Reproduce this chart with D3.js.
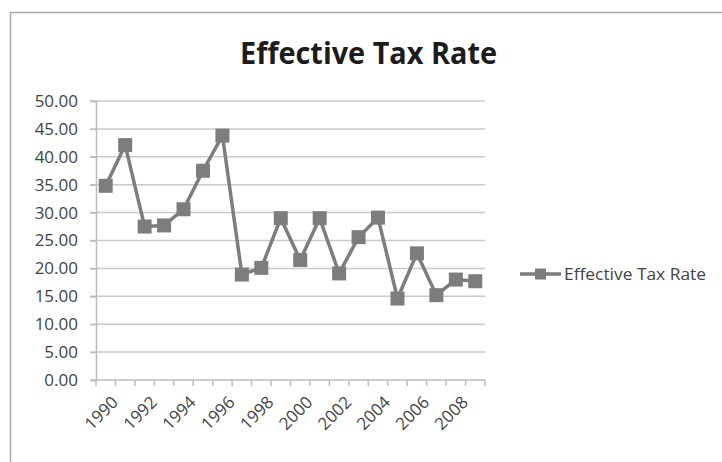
<!DOCTYPE html>
<html>
<head>
<meta charset="utf-8">
<script src="https://cdn.jsdelivr.net/npm/d3@7"></script>
<style>
  body { margin: 0; background: #fff; }
  svg { display: block; font-family: 'Open Sans', sans-serif; }
</style>
</head>
<body>
<svg id="chart" width="722" height="462"></svg>
<script>
'use strict';

var years = [1990, 1991, 1992, 1993, 1994, 1995, 1996, 1997, 1998, 1999,
  2000, 2001, 2002, 2003, 2004, 2005, 2006, 2007, 2008, 2009];
var rates = [34.8, 42.1, 27.5, 27.7, 30.6, 37.5, 43.8, 18.9, 20.1, 29.0,
  21.5, 29.0, 19.1, 25.6, 29.1, 14.6, 22.7, 15.2, 18.0, 17.7];
var yTicks = [0, 5, 10, 15, 20, 25, 30, 35, 40, 45, 50];
var seriesName = 'Effective Tax Rate';

(function () {
  var svg = d3.select('#chart');
  var margins = { top: 101, left: 96 };
  var width = 389;
  var height = 279;
  var ink = '#7d7d7d';

  // chart border (runs off the right and bottom of the picture)
  svg.append('rect').attr('x', 10.5).attr('y', 12.5).attr('width', 760).attr('height', 500)
    .attr('fill', 'none').attr('stroke', '#a8a8a8').attr('stroke-width', 1.5);

  svg.append('text').attr('x', 240).attr('y', 64)
    .attr('font-size', 30).attr('font-weight', 'bold').attr('fill', '#1c1c1c')
    .attr('textLength', 257).attr('lengthAdjust', 'spacingAndGlyphs')
    .text(seriesName);

  var g = svg.append('g').attr('transform', 'translate(' + margins.left + ',' + margins.top + ')');

  var x = d3.scaleBand().domain(years).range([0, width]);
  var y = d3.scaleLinear().domain([0, 50]).range([height, 0]);

  // horizontal gridlines
  g.append('g').selectAll('line').data(yTicks.slice(1)).enter().append('line')
    .attr('x1', -6).attr('x2', width)
    .attr('y1', function (d) { return y(d); }).attr('y2', function (d) { return y(d); })
    .attr('stroke', '#cacaca').attr('stroke-width', 1.5);

  var yAxis = d3.axisLeft(y).tickValues(yTicks).tickFormat(d3.format('.2f')).tickSize(6).tickPadding(12);
  var yG = g.append('g').call(yAxis);
  yG.select('.domain').attr('stroke', '#bdbdbd').attr('stroke-width', 1.5);
  yG.selectAll('.tick line').attr('stroke', '#bdbdbd').attr('stroke-width', 1.5);
  yG.selectAll('text').attr('font-size', 17).attr('fill', '#444').attr('font-family', 'Open Sans');

  // x axis: tick marks on the category boundaries
  var xG = g.append('g').attr('transform', 'translate(0,' + height + ')');
  xG.append('line').attr('x1', -6).attr('x2', width).attr('stroke', '#bdbdbd').attr('stroke-width', 1.5);
  xG.selectAll('line.tk').data(years.concat([null])).enter().append('line').attr('class', 'tk')
    .attr('x1', function (d, i) { return i * x.step(); })
    .attr('x2', function (d, i) { return i * x.step(); })
    .attr('y1', 0).attr('y2', 6).attr('stroke', '#bdbdbd').attr('stroke-width', 1.5);
  xG.selectAll('text').data(years.filter(function (d, i) { return i % 2 === 0; })).enter().append('text')
    .attr('transform', function (d) {
      return 'translate(' + (x(d) + x.bandwidth() / 2 + 5) + ',' + 15 + ') rotate(-45)';
    })
    .attr('text-anchor', 'end').attr('dy', '0.7em')
    .attr('font-size', 17).attr('fill', '#444').text(function (d) { return d; });

  var data = years.map(function (d, i) { return { year: d, rate: rates[i] }; });
  var cx = function (d) { return x(d.year) + x.bandwidth() / 2; };

  var line = d3.line().x(cx).y(function (d) { return y(d.rate); });
  g.append('path').datum(data).attr('d', line).attr('fill', 'none')
    .attr('stroke', ink).attr('stroke-width', 3.5).attr('stroke-linejoin', 'round');

  g.append('g').selectAll('rect').data(data).enter().append('rect')
    .attr('x', function (d) { return cx(d) - 7; })
    .attr('y', function (d) { return y(d.rate) - 7; })
    .attr('width', 14).attr('height', 14).attr('fill', ink);

  // legend
  var lg = svg.append('g').attr('transform', 'translate(520,274)');
  lg.append('line').attr('x1', 0).attr('x2', 41).attr('stroke', ink).attr('stroke-width', 3.5);
  lg.append('rect').attr('x', 15).attr('y', -5.5).attr('width', 11).attr('height', 11).attr('fill', ink);
  lg.append('text').attr('x', 44).attr('dy', '0.35em').attr('font-size', 16.5).attr('fill', '#444')
    .attr('textLength', 142).attr('lengthAdjust', 'spacingAndGlyphs')
    .text(seriesName);
})();
</script>
</body>
</html>
